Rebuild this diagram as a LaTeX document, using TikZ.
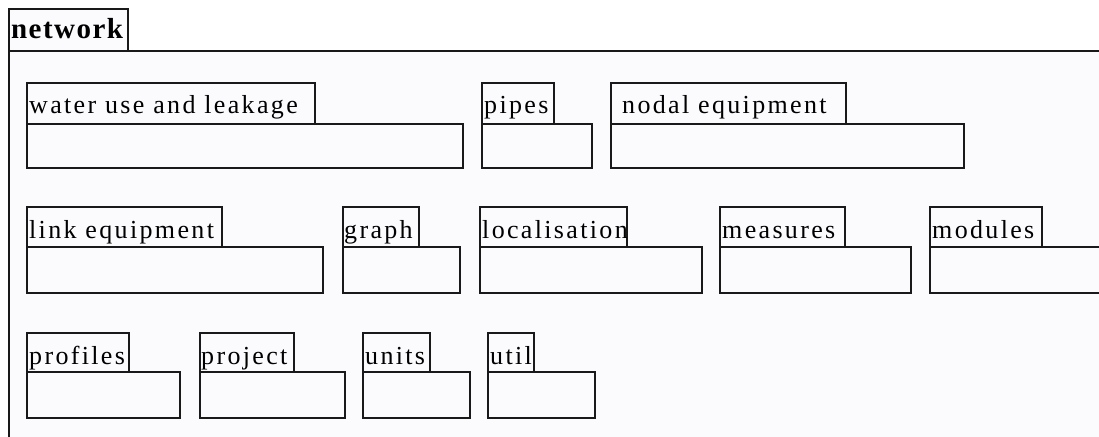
\documentclass[tikz,border=0pt]{standalone}
\usepackage{fontspec}
\setmainfont{Liberation Serif}
\newfontfamily\pkgfont[LetterSpace=9]{Liberation Serif}
\newfontfamily\netfont[LetterSpace=5]{Liberation Serif}
\definecolor{pkgfill}{RGB}{251,251,254}
\definecolor{linec}{RGB}{25,25,25}
\begin{document}
\begin{tikzpicture}[x=1pt,y=-1pt,
  bodybox/.style={draw=linec, fill=pkgfill, line width=1.2pt, inner sep=0pt, outer sep=0pt, anchor=north west},
  tabbox/.style={draw=linec, fill=pkgfill, line width=1.2pt, inner sep=0pt, outer sep=0pt, anchor=south west},
  pkglabel/.style={inner sep=0pt, anchor=base west, font=\pkgfont\fontsize{26}{30}\selectfont, text=black},
  netlabel/.style={inner sep=0pt, anchor=base west, font=\netfont\bfseries\fontsize{29}{33}\selectfont, text=black}]
\useasboundingbox (0,0) rectangle (1099,436);
\clip (0,0) rectangle (1099,436);
\fill[white] (0,0) rectangle (1099,436);
% outer package
\node[bodybox, minimum width=1150, minimum height=420] (network) at (9,51) {};
\node[tabbox, minimum width=119, minimum height=42] (network-tab) at (9,51) {};
\node[netlabel] (network-label) at (11,39) {network};
% row 1
\node[bodybox, minimum width=436, minimum height=44] (wul) at (27,124) {};
\node[tabbox, minimum width=288, minimum height=41] (wul-tab) at (27,124) {};
\node[pkglabel] (wul-label) at (29,113.5) {water use and leakage};
\node[bodybox, minimum width=110, minimum height=44] (pipes) at (482,124) {};
\node[tabbox, minimum width=72, minimum height=41] (pipes-tab) at (482,124) {};
\node[pkglabel] (pipes-label) at (484,113.5) {pipes};
\node[bodybox, minimum width=353, minimum height=44] (nodal) at (611,124) {};
\node[tabbox, minimum width=235, minimum height=41] (nodal-tab) at (611,124) {};
\node[pkglabel] (nodal-label) at (622,113.5) {nodal equipment};
% row 2
\node[bodybox, minimum width=296, minimum height=46] (link) at (27,247) {};
\node[tabbox, minimum width=195, minimum height=40] (link-tab) at (27,247) {};
\node[pkglabel] (link-label) at (29,238) {link equipment};
\node[bodybox, minimum width=117, minimum height=46] (graph) at (343,247) {};
\node[tabbox, minimum width=76, minimum height=40] (graph-tab) at (343,247) {};
\node[pkglabel] (graph-label) at (344,238) {graph};
\node[bodybox, minimum width=222, minimum height=46] (local) at (480,247) {};
\node[tabbox, minimum width=147, minimum height=40] (local-tab) at (480,247) {};
\node[pkglabel] (local-label) at (482,238) {localisation};
\node[bodybox, minimum width=191, minimum height=46] (measures) at (720,247) {};
\node[tabbox, minimum width=125, minimum height=40] (measures-tab) at (720,247) {};
\node[pkglabel] (measures-label) at (722,238) {measures};
\node[bodybox, minimum width=190, minimum height=46] (modules) at (930,247) {};
\node[tabbox, minimum width=112, minimum height=40] (modules-tab) at (930,247) {};
\node[pkglabel] (modules-label) at (932,238) {modules};
% row 3
\node[bodybox, minimum width=153, minimum height=46] (profiles) at (27,372) {};
\node[tabbox, minimum width=102, minimum height=39] (profiles-tab) at (27,372) {};
\node[pkglabel] (profiles-label) at (29,364) {profiles};
\node[bodybox, minimum width=145, minimum height=46] (project) at (200,372) {};
\node[tabbox, minimum width=94, minimum height=39] (project-tab) at (200,372) {};
\node[pkglabel] (project-label) at (201,364) {project};
\node[bodybox, minimum width=107, minimum height=46] (units) at (363,372) {};
\node[tabbox, minimum width=67, minimum height=39] (units-tab) at (363,372) {};
\node[pkglabel] (units-label) at (365,364) {units};
\node[bodybox, minimum width=107, minimum height=46] (util) at (488,372) {};
\node[tabbox, minimum width=46, minimum height=39] (util-tab) at (488,372) {};
\node[pkglabel] (util-label) at (490,364) {util};
\end{tikzpicture}
\end{document}
